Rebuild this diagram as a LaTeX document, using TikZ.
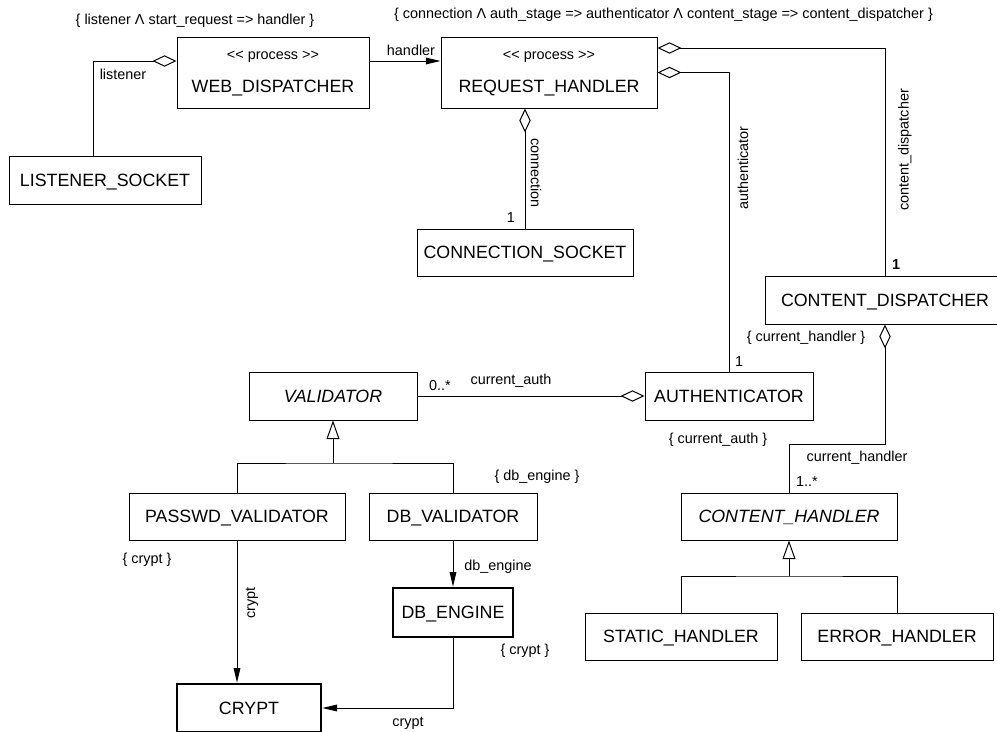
\documentclass[tikz,border=0pt]{standalone}
\usepackage{fontspec}
\setmainfont{Liberation Sans}
\usetikzlibrary{arrows.meta}

\begin{document}
\begin{tikzpicture}[x=0.75pt, y=-0.75pt]
		\tikzset{
			class box/.style = {draw, line width=0.75pt, inner sep=0pt, text height=9.6pt, text depth=0pt,
					font=\fontsize{13.35}{16}\selectfont},
			thick box/.style = {class box, line width=2pt},
			small label/.style = {inner sep=0pt, font=\fontsize{10.8}{13}\selectfont},
			conn/.style = {line width=0.75pt},
			agg/.style = {conn, {Diamond[open, length=18pt, width=8.5pt]}-},
			nav/.style = {conn, -{Triangle[length=11pt, width=5pt]}},
			gen/.style = {conn, -{Triangle[open, length=14pt, width=9.75pt]}},
		}
		\useasboundingbox (0,0) rectangle (997,732);

		\node[class box, minimum width=144pt, minimum height=53.25pt] (webdisp) at (273,72.5) {};
		\node[small label] (webdisp stereo) at (273,56.5) {<\kern0pt< process >\kern0pt>};
		\node[class box, draw=none] (webdisp name) at (273,86) {WEB\_DISPATCHER};
		\node[class box, minimum width=162pt, minimum height=53.25pt] (reqhand) at (549,72.5) {};
		\node[small label] (reqhand stereo) at (549,56.5) {<\kern0pt< process >\kern0pt>};
		\node[class box, draw=none] (reqhand name) at (549,86) {REQUEST\_HANDLER};
		\node[class box, minimum width=144pt, minimum height=36pt] (lsock) at (105,180) {LISTENER\_SOCKET};
		\node[class box, minimum width=162pt, minimum height=35.25pt] (csock) at (525,252.5) {CONNECTION\_SOCKET};
		\node[class box, minimum width=180pt, minimum height=36pt] (cdisp) at (885,300) {CONTENT\_DISPATCHER};
		\node[class box, minimum width=126pt, minimum height=36pt] (validator) at (333,396) {\itshape VALIDATOR};
		\node[class box, minimum width=126pt, minimum height=36pt] (auth) at (729,396) {AUTHENTICATOR};
		\node[class box, minimum width=162pt, minimum height=35.25pt] (pwval) at (237,516.5) {PASSWD\_VALIDATOR};
		\node[class box, minimum width=126pt, minimum height=35.25pt] (dbval) at (453,516.5) {DB\_VALIDATOR};
		\node[thick box, minimum width=90pt, minimum height=36.75pt] (dbeng) at (453,612.5) {DB\_ENGINE};
		\node[thick box, minimum width=108pt, minimum height=36pt] (crypt) at (249,708) {CRYPT};
		\node[class box, minimum width=162pt, minimum height=35.25pt] (chandler) at (789,516.5) {\itshape CONTENT\_HANDLER};
		\node[class box, minimum width=144pt, minimum height=35.25pt] (shandler) at (681,636.5) {STATIC\_HANDLER};
		\node[class box, minimum width=144pt, minimum height=35.25pt] (ehandler) at (897,636.5) {ERROR\_HANDLER};

		\coordinate (lsbend) at (93,61);
		\coordinate (cdbend) at (885,48);
		\coordinate (chbend) at (885,444);
		\coordinate (valjoin) at (333,463);
		\coordinate (chjoin) at (789,576);

		\draw[agg] (webdisp.west |- lsbend) -- (lsbend) -- (lsbend |- lsock.north);
		\draw[nav] (webdisp.east |- lsbend) -- (reqhand.west |- lsbend);
		\draw[agg] (reqhand.south -| csock.north) -- (csock.north);
		\draw[agg] (reqhand.east) -| (auth.north);
		\draw[agg] (reqhand.east |- cdbend) -- (cdbend) -- (cdisp.north);
		\draw[agg] (cdisp.south) -- (chbend) -| (chandler.north);
		\draw[agg] (auth.west) -- (validator.east);
		\draw[conn] (pwval.north) |- (valjoin) -| (dbval.north);
		\draw[gen] (valjoin) -- (validator.south);
		\draw[conn] (shandler.north) |- (chjoin) -| (ehandler.north);
		\draw[gen] (chjoin) -- (chandler.south);
		\draw[nav] (dbval.south) -- (dbeng.north);
		\draw[nav] (pwval.south) -- (pwval.south |- crypt.north);
		\draw[nav] (dbeng.south) |- (crypt.east);

		\node[small label] (webdisp rule) at (195,21) {\{ listener Λ start\_request => handler \}};
		\node[small label] (reqhand rule) at (663.5,15) {\{ connection Λ auth\_stage => authenticator Λ content\_stage => content\_dispatcher \}};
		\node[small label] (lbl listener) at (123,74) {listener};
		\node[small label] (lbl handler) at (411,50) {handler};
		\node[small label, rotate=-90] (lbl connection) at (536,173) {connection};
		\node[small label] (mul connection) at (511,218) {1};
		\node[small label, rotate=90] (lbl authenticator) at (743,168) {authenticator};
		\node[small label, rotate=90] (lbl cdisp) at (905,150) {content\_dispatcher};
		\node[small label, font=\fontsize{10.8}{13}\selectfont\bfseries] (mul cdisp) at (896,265) {1};
		\node[small label] (cdisp rule) at (806,338) {\{ current\_handler \}};
		\node[small label] (mul auth) at (739,362) {1};
		\node[small label] (mul validator) at (440,386) {0..*};
		\node[small label] (lbl current auth) at (511,381) {current\_auth};
		\node[small label] (auth rule) at (718,440) {\{ current\_auth \}};
		\node[small label] (lbl current handler) at (857,458) {current\_handler};
		\node[small label] (mul chandler) at (807,482) {1..*};
		\node[small label] (dbval rule) at (537,477) {\{ db\_engine \}};
		\node[small label] (pwval rule) at (147,560) {\{ crypt \}};
		\node[small label] (lbl db engine) at (498,567) {db\_engine};
		\node[small label, rotate=90] (lbl pw crypt) at (252,603) {crypt};
		\node[small label] (dbeng rule) at (525,651) {\{ crypt \}};
		\node[small label] (lbl db crypt) at (408,723) {crypt};
	\end{tikzpicture}
\end{document}
